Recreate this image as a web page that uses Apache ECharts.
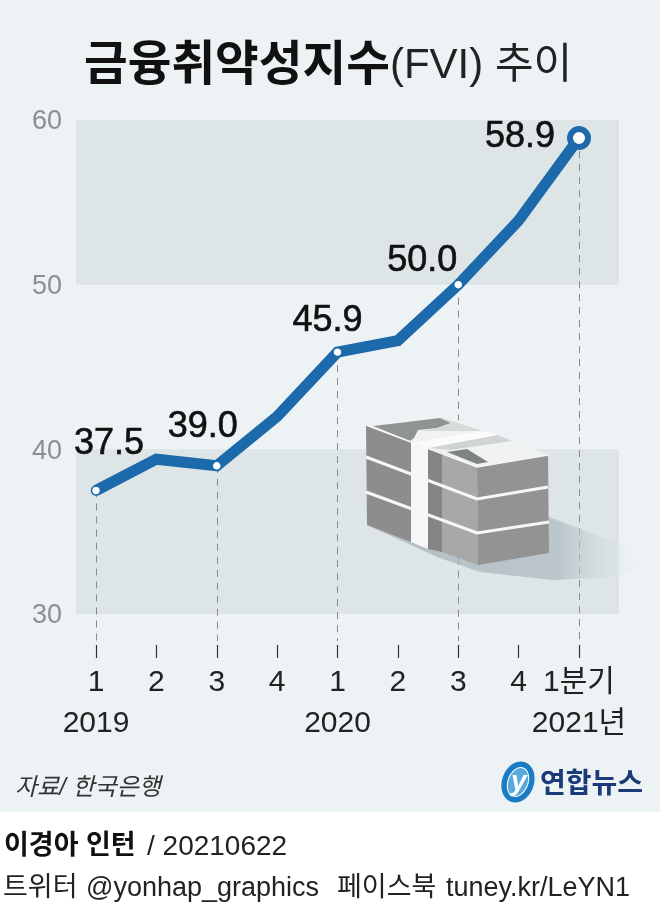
<!DOCTYPE html>
<html>
<head>
<meta charset="utf-8">
<style>html,body{margin:0;padding:0;background:#fff}#chart{width:660px;height:905px}</style>
<script src="https://cdn.jsdelivr.net/npm/echarts@6/dist/echarts.min.js"></script>
</head>
<body>
<div id="chart"></div>
<script>
const quarters = ['1', '2', '3', '4', '1', '2', '3', '4', '1분기'];
const years = ['2019', '', '', '', '2020', '', '', '', '2021년'];
const fvi = [37.5, 39.4, 39.0, 42.0, 45.9, 46.6, 50.0, 53.9, 58.9];
const labelled = [0, 2, 4, 6, 8]; // 값 표시하는 분기
const bands = [[30, 40], [50, 60]];

const FONT = '"Liberation Sans", "Noto Sans CJK KR", sans-serif';
const BLUE = '#1c69ab';
const AXIS_MIN = 28.36; // 점선이 눈금 바로 위까지 내려오도록
const labelOffset = { 0: [13, -23], 2: [-14, -15], 4: [-10, -8], 6: [-36, 0], 8: [-59, 29] };

const poly = (pts, fill, z) => ({ type: 'polygon', z: z || 20, silent: true, shape: { points: pts }, style: { fill: fill } });
const txt = (x, y, text, size, fill, weight, extra) => ({
  type: 'text', z: 30, silent: true, x: x, y: y,
  style: Object.assign({ text: text, font: (weight || 'normal') + ' ' + size + 'px ' + FONT, fill: fill, textVerticalAlign: 'middle' }, extra || {})
});

// 돈다발 그림
const money = [
  { type: 'polygon', z: 15, silent: true, shape: { points: [[367, 525], [437, 557], [480, 572], [553, 580], [617, 577], [642, 562], [618, 543], [549, 517]] },
    style: { fill: new echarts.graphic.LinearGradient(0, 0, 1, 0, [{ offset: 0, color: 'rgba(165,178,184,0.75)' }, { offset: 0.7, color: 'rgba(175,188,194,0.75)' }, { offset: 1, color: 'rgba(225,232,235,0)' }]) } },
  poly([[366, 425], [442, 414], [548, 455], [477, 467]], '#f1f3f3'),
  poly([[373, 426], [407, 422], [440, 418], [451, 423], [437, 428], [418, 430], [414, 438], [410, 441]], '#8f9393', 21),
  poly([[440, 417], [458, 423], [483, 431], [420, 431], [437, 428], [451, 423]], '#d8dbdb', 21),
  poly([[428, 448], [497, 435], [512, 441], [450, 450]], '#d0d3d3', 21),
  poly([[411, 443], [483, 431], [497, 435], [428, 448]], '#fbfbfb', 22),
  poly([[447, 452], [467, 449], [488, 462], [477, 464]], '#7f8383', 21),
  poly([[366, 425], [411, 442], [411, 542], [367, 525]], '#8d8d8d'),
  poly([[411, 442], [428, 448], [428, 549], [411, 542]], '#f6f6f6'),
  poly([[428, 448], [442, 453], [442, 552], [428, 549]], '#858585'),
  poly([[442, 453], [477, 467], [478, 565], [442, 552]], '#a8a8a8'),
  poly([[477, 467], [548, 455], [549, 553], [478, 565]], '#939393')
];
[[[366, 425], [477, 467], [548, 455]], [[366, 457], [477, 499], [548, 487]], [[366, 492], [477, 533], [549, 522]]].forEach(function (p, i) {
  money.push({ type: 'polyline', z: 23, silent: true, shape: { points: p }, style: { stroke: '#f6f7f7', lineWidth: i ? 3 : 1.5, fill: null } });
});

const option = {
  backgroundColor: '#edf2f4',
  animation: false,
  title: {
    left: 84, top: 43, padding: 0,
    text: '{b|금융취약성지수}{l|(FVI) 추이}',
    textStyle: {
      rich: {
        b: { fontFamily: FONT, fontSize: 47.5, fontWeight: 'bold', color: '#111' },
        l: { fontFamily: FONT, fontSize: 42, fontWeight: 'normal', color: '#222' }
      }
    }
  },
  grid: [
    { left: 76, right: 41, top: 120, height: 494 },
    { left: 96, right: 81, top: 120, height: 521 }
  ],
  xAxis: [
    { gridIndex: 0, type: 'value', min: 0, max: 1, show: false },
    {
      gridIndex: 1, type: 'category', data: quarters, boundaryGap: false, offset: 4,
      axisLine: { show: false },
      axisTick: { show: true, length: 13, alignWithLabel: true, lineStyle: { color: '#333', width: 1.2 } },
      axisLabel: {
        interval: 0, margin: 17, fontFamily: FONT, lineHeight: 41,
        formatter: function (v, i) { return '{q|' + v + '}\n{y|' + years[i] + '}'; },
        rich: {
          q: { fontFamily: FONT, fontSize: 30, color: '#222', lineHeight: 41 },
          y: { fontFamily: FONT, fontSize: 30, color: '#222', lineHeight: 41 }
        }
      }
    }
  ],
  yAxis: [
    {
      gridIndex: 0, type: 'value', min: 30, max: 60, interval: 10,
      axisLine: { show: false }, axisTick: { show: false }, splitLine: { show: false },
      axisLabel: {
        margin: 14, formatter: '{v|{value}}',
        rich: { v: { padding: [4, 0, 0, 0], fontFamily: FONT, fontSize: 27, color: '#8a8f92' } }
      }
    },
    { gridIndex: 1, type: 'value', min: AXIS_MIN, max: 60, show: false }
  ],
  series: [
    {
      type: 'line', xAxisIndex: 0, yAxisIndex: 0, data: [], z: 1,
      markArea: {
        silent: true, itemStyle: { color: '#dde5e7' },
        data: bands.map(function (b) { return [{ xAxis: 0, yAxis: b[0] }, { xAxis: 1, yAxis: b[1] }]; })
      }
    },
    {
      type: 'line', xAxisIndex: 1, yAxisIndex: 1, z: 5,
      lineStyle: { color: BLUE, width: 11, join: 'miter' },
      symbol: 'none', showSymbol: true, showAllSymbol: true,
      data: fvi.map(function (v, i) {
        const on = labelled.indexOf(i) >= 0;
        const last = i === fvi.length - 1;
        return {
          value: v,
          symbol: on ? 'circle' : 'none',
          symbolSize: last ? 18 : 9,
          itemStyle: { color: '#fff', borderColor: BLUE, borderWidth: last ? 6 : 1.5 },
          label: on ? {
            show: true, position: 'top', offset: labelOffset[i], distance: 0,
            formatter: v.toFixed(1), fontFamily: FONT, fontSize: 36, color: '#111',
            fontWeight: 'normal', textBorderColor: '#111', textBorderWidth: 0.6
          } : { show: false }
        };
      }),
      markLine: {
        silent: true, symbol: 'none', animation: false, z: 2,
        label: { show: false },
        lineStyle: { color: '#8a8a8a', type: [7, 6], width: 1 },
        data: labelled.map(function (i) {
          return [{ coord: [i, fvi[i]] }, { coord: [i, AXIS_MIN] }];
        })
      }
    }
  ],
  graphic: [
    { type: 'rect', z: 25, silent: true, shape: { x: 0, y: 812, width: 660, height: 93 }, style: { fill: '#fff' } },
    ...money,
    txt(15, 788, '자료/ 한국은행', 24, '#333', 'italic'),
    { type: 'ellipse', z: 30, silent: true, shape: { cx: 518, cy: 782, rx: 16, ry: 21 }, rotation: -0.35, originX: 518, originY: 782, style: { fill: '#1a7cc4' } },
    { type: 'ellipse', z: 30, silent: true, shape: { cx: 518, cy: 782, rx: 10, ry: 15 }, rotation: -0.35, originX: 518, originY: 782, style: { fill: '#5aa9dc', stroke: '#fff', lineWidth: 1 } },
    txt(511, 782, 'y', 28, '#fff', 'italic bold'),
    txt(540, 785, '연합뉴스', 28, '#1b3a78', 'bold'),
    txt(4, 847, '이경아 인턴', 27, '#111', 'bold'),
    txt(147, 847, '/ 20210622', 28, '#222'),
    txt(3, 889, '트위터', 27, '#222'),
    txt(86, 889, '@yonhap_graphics', 27, '#222'),
    txt(337, 889, '페이스북', 27, '#222'),
    txt(446, 889, 'tuney.kr/LeYN1', 27, '#222')
  ]
};

const chart = echarts.init(document.getElementById('chart'), null, { width: 660, height: 905 });
chart.setOption(option);
</script>
</body>
</html>
